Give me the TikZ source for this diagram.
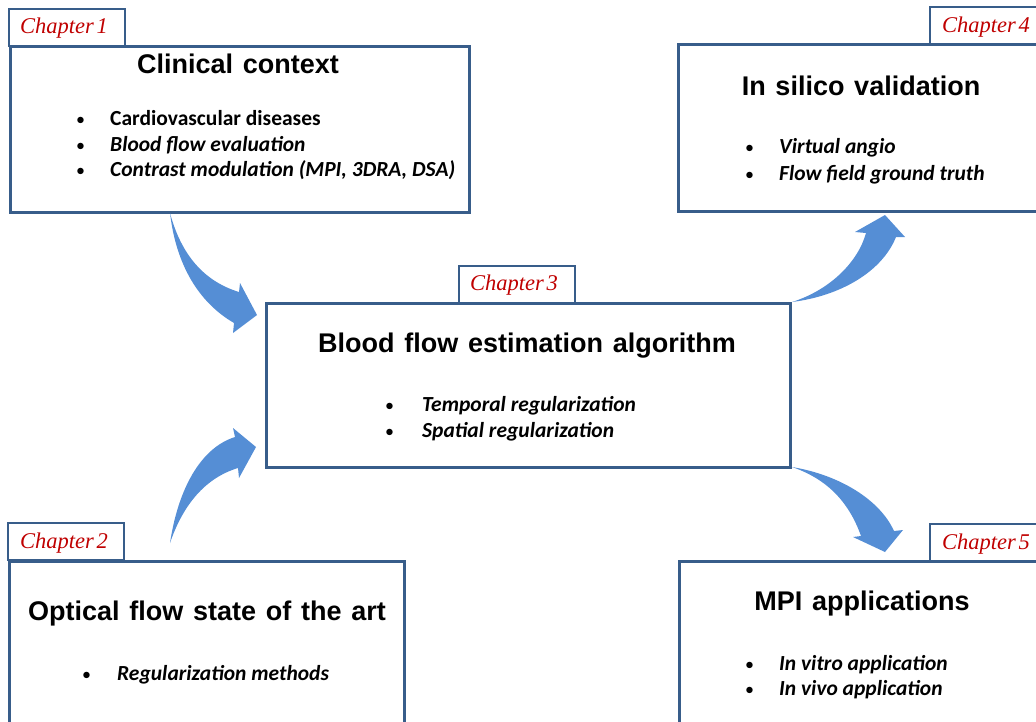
\documentclass[tikz,border=0pt]{standalone}
\usepackage{fontspec}
\newfontfamily\titlefont{Liberation Sans}
\newfontfamily\bodyfont{Carlito}
\newfontfamily\chapfont{Liberation Serif}
\newcommand\chapsel{\chapfont\itshape\fontsize{22.5}{26}\selectfont\spaceskip 0.12em\relax}
\newcommand\ttlsel{\titlefont\bfseries\fontsize{27}{30}\selectfont\spaceskip 0.36em\relax}
\definecolor{boxblue}{HTML}{385D8A}
\definecolor{arrowblue}{HTML}{558ED5}
\definecolor{chapred}{HTML}{C00000}
\begin{document}
\begin{tikzpicture}[x=1pt,y=-1pt,
 panel/.style={draw=boxblue, line width=2.5pt, fill=white, anchor=north west, inner sep=0pt},
 tabbox/.style={draw=boxblue, line width=1.8pt, fill=white, anchor=north west, inner sep=0pt, minimum width=116pt, minimum height=37pt},
 chap/.style={anchor=base west, inner sep=0pt, text=chapred, font=\chapsel},
 ttl/.style={anchor=base, inner sep=0pt, font=\ttlsel},
 bul/.style={anchor=base west, inner sep=0pt, font=\bodyfont\fontsize{18}{24}\selectfont},
 itm/.style={anchor=base west, inner sep=0pt, font=\bodyfont\bfseries\itshape\fontsize{21.5}{24}\selectfont},
 itmup/.style={anchor=base west, inner sep=0pt, font=\bodyfont\bfseries\fontsize{21.5}{24}\selectfont},
 blockarrow/.style={fill=arrowblue, draw=none}]
\useasboundingbox (0,0) rectangle (1036,721);
\clip (0,0) rectangle (1036,721);

% panels
\node[panel, minimum width=459pt, minimum height=166pt] (b1) at (9,45) {};
\node[tabbox] (t1) at (8,8) {};
\node[panel, minimum width=524pt, minimum height=164pt] (b3) at (265,302) {};
\node[tabbox] (t3) at (458,265) {};
\node[panel, minimum width=368pt, minimum height=167pt] (b4) at (677,43) {};
\node[tabbox, minimum width=130pt] (t4) at (929,6) {};
\node[panel, minimum width=395pt, minimum height=175pt] (b2) at (8,560) {};
\node[tabbox] (t2) at (7,522) {};
\node[panel, minimum width=368pt, minimum height=175pt] (b5) at (678,560) {};
\node[tabbox, minimum width=130pt] (t5) at (929,523) {};

% chapter labels
\node[chap] (c1) at (20,33) {Chapter 1};
\node[chap] (c3) at (470,290) {Chapter 3};
\node[chap] (c4) at (942,32) {Chapter 4};
\node[chap] (c2) at (20,548) {Chapter 2};
\node[chap] (c5) at (942,549) {Chapter 5};

% titles
\node[ttl] (h1) at (238,73) {Clinical context};
\node[ttl] (h3) at (527,352) {Blood flow estimation algorithm};
\node[ttl] (h4) at (861,95) {In silico validation};
\node[ttl] (h2) at (207,620) {Optical flow state of the art};
\node[ttl] (h5) at (862,610) {MPI applications};

% box 1 bullets
\node[bul] (p11) at (76,125) {•};
\node[itmup] (i11) at (110,125) {Cardiovascular diseases};
\node[bul] (p12) at (76,151) {•};
\node[itm] (i12) at (110,151) {Blood flow evaluation};
\node[bul] (p13) at (76,176) {•};
\node[itm] (i13) at (110,176) {Contrast modulation (MPI, 3DRA, DSA)};

% box 3 bullets
\node[bul] (p31) at (385,411) {•};
\node[itm] (i31) at (422,411) {Temporal regularization};
\node[bul] (p32) at (385,437) {•};
\node[itm] (i32) at (422,437) {Spatial regularization};

% box 4 bullets
\node[bul] (p41) at (745,153) {•};
\node[itm] (i41) at (779,153) {Virtual angio};
\node[bul] (p42) at (745,180) {•};
\node[itm] (i42) at (779,180) {Flow field ground truth};

% box 2 bullets
\node[bul] (p21) at (82,680) {•};
\node[itm] (i21) at (117,680) {Regularization methods};

% box 5 bullets
\node[bul] (p51) at (745,670) {•};
\node[itm] (i51) at (779,670) {In vitro application};
\node[bul] (p52) at (745,695) {•};
\node[itm] (i52) at (779,695) {In vivo application};

% block arrows
\fill[blockarrow] (170,213) .. controls (180,250) and (200,280) .. (239,292)
  -- (240,283) -- (257,315) -- (233,333) -- (234,323)
  .. controls (198,302) and (176,264) .. (170,213) -- cycle;
\fill[blockarrow] (170,543) .. controls (183,505) and (205,478) .. (238,468)
  -- (239,478) -- (256,447) -- (233,428) -- (235,437)
  .. controls (200,448) and (178,490) .. (170,543) -- cycle;
\fill[blockarrow] (792,302) .. controls (830,290) and (858,262) .. (866,233)
  -- (855,232) -- (885,215) -- (905,237) -- (896,237)
  .. controls (882,272) and (840,296) .. (792,302) -- cycle;
\fill[blockarrow] (792,467) .. controls (840,475) and (880,500) .. (894,531)
  -- (903,530) -- (885,552) -- (853,537) -- (861,536)
  .. controls (850,505) and (830,480) .. (792,467) -- cycle;
\end{tikzpicture}
\end{document}
